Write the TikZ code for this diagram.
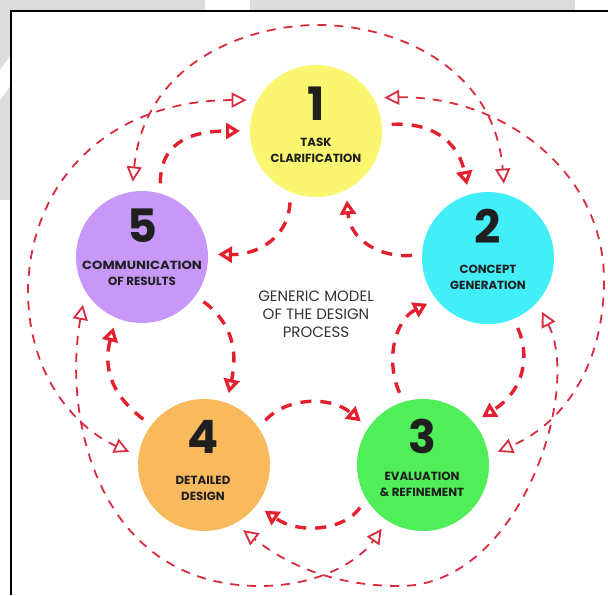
\documentclass[tikz,border=0pt]{standalone}
\usepackage{fontspec}
\setmainfont{Poppins}
\usetikzlibrary{arrows.meta}

\definecolor{innerred}{RGB}{228,32,46}
\definecolor{outerred}{RGB}{216,44,62}
\definecolor{yellowstage}{RGB}{250,246,112}
\definecolor{cyanstage}{RGB}{66,238,248}
\definecolor{greenstage}{RGB}{80,238,88}
\definecolor{orangestage}{RGB}{248,186,92}
\definecolor{lilacstage}{RGB}{200,152,248}
\definecolor{margingrey}{RGB}{220,220,220}

\tikzset{
  stage/.style={circle, minimum size=132pt, inner sep=0pt, outer sep=10pt},
  bignum/.style={font=\bfseries\fontsize{46}{46}\selectfont, text=black!88, inner sep=0pt},
  stagelabel/.style={font=\bfseries\fontsize{11.8}{16.5}\selectfont, align=center, text=black!88, inner sep=0pt},
  title/.style={font=\fontsize{15}{18}\selectfont, align=center, text=black!80, inner sep=0pt},
  loopin/.style={draw=innerred, line width=3.4pt, dash pattern=on 11pt off 9pt,
    -{Triangle[open, length=14pt, width=16pt, line width=3.2pt]}},
  loopout/.style={draw=outerred, line width=1.8pt, dash pattern=on 9pt off 8pt,
    {Triangle[open, length=15pt, width=15pt]}-{Triangle[open, length=15pt, width=15pt]}},
}

\begin{document}
\begin{tikzpicture}[x=1pt, y=-1pt]
  % page, margin and frame
  \useasboundingbox (0,0) rectangle (608,595);
  \fill[white] (0,0) rectangle (608,595);
  \fill[margingrey] (0,0) rectangle (205,11);
  \fill[margingrey] (250,0) rectangle (575,11);
  \fill[margingrey] (0,0) rectangle (11,200);
  \fill[white] (0,70) -- (11,55) -- (11,85) -- (0,100) -- cycle;
  \draw[black, line width=2.2pt] (11,595) -- (11,11) -- (608,11);

  % the five stages
  \node[stage, fill=yellowstage] (n1) at (316,131) {};
  \node[stage, fill=cyanstage]   (n2) at (488,258) {};
  \node[stage, fill=greenstage]  (n3) at (423,465) {};
  \node[stage, fill=orangestage] (n4) at (204,465) {};
  \node[stage, fill=lilacstage]  (n5) at (142,257) {};

  \node[bignum] (d1) at (316,104) {1};
  \node[stagelabel] (t1) at (316,150.5) {TASK\\CLARIFICATION};
  \node[bignum] (d2) at (488,226) {2};
  \node[stagelabel] (t2) at (488,277.5) {CONCEPT\\GENERATION};
  \node[bignum] (d3) at (422,436) {3};
  \node[stagelabel] (t3) at (422,484.5) {EVALUATION\\\& REFINEMENT};
  \node[bignum] (d4) at (203,437) {4};
  \node[stagelabel] (t4) at (203,488.5) {DETAILED\\DESIGN};
  \node[bignum] (d5) at (142,226) {5};
  \node[stagelabel] (t5) at (142,273.5) {\scalebox{1.12}[1]{COMMUNICATION}\\OF RESULTS};

  \node[title] (core) at (316,314) {GENERIC MODEL\\OF THE DESIGN\\PROCESS};

  % inner loop between neighbouring stages
  \draw[loopin] (n1.5)    .. controls (430,122) and (458,140) .. (n2.106);
  \draw[loopin] (n2.178)  .. controls (380,258) and (350,240) .. (n1.-66);
  \draw[loopin] (n1.-110) .. controls (288,240) and (255,255) .. (n5.2);
  \draw[loopin] (n5.76)   .. controls (160,140) and (195,131) .. (n1.180);
  \draw[loopin] (n5.-36)  .. controls (235,325) and (237,355) .. (n4.71);
  \draw[loopin] (n4.143)  .. controls (105,390) and (105,360) .. (n5.-112);
  \draw[loopin] (n4.36)   .. controls (285,398) and (330,395) .. (n3.145);
  \draw[loopin] (n3.108)  .. controls (385,360) and (395,320) .. (n2.217);
  \draw[loopin] (n2.-67)  .. controls (530,355) and (525,390) .. (n3.39);
  \draw[loopin] (n3.214)  .. controls (345,530) and (300,535) .. (n4.-37);

  % outer loops between every second stage
  \draw[loopout] (n1.156) .. controls (110,100) and (30,180) .. (28,290)
                          .. controls (28,380) and (80,430) .. (n4.170);
  \draw[loopout] (n5.97)  .. controls (145,60) and (250,25) .. (318,25)
                          .. controls (400,25) and (495,70) .. (n2.78);
  \draw[loopout] (n1.26)  .. controls (500,95) and (604,170) .. (604,280)
                          .. controls (604,370) and (560,425) .. (n3.10);
  \draw[loopout] (n2.-45) .. controls (582,390) and (520,586) .. (400,586)
                          .. controls (320,586) and (275,555) .. (n4.-59);
  \draw[loopout] (n5.219) .. controls (62,420) and (100,586) .. (260,586)
                          .. controls (320,586) and (360,560) .. (n3.237);
\end{tikzpicture}
\end{document}
